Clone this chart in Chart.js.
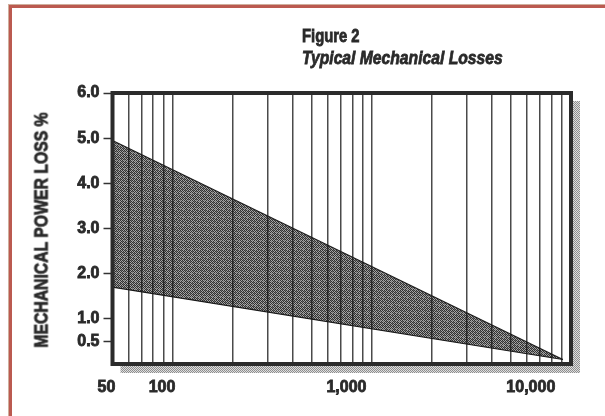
<!DOCTYPE html>
<html>
<head>
<meta charset="utf-8">
<script src="https://cdn.jsdelivr.net/npm/chart.js@4.4.1/dist/chart.umd.min.js"></script>
<style>
html,body{margin:0;padding:0;background:#fff;}
#wrap{position:relative;width:605px;height:416px;overflow:hidden;background:#fff;}
#frame{position:absolute;left:8px;top:4px;width:700px;height:500px;border-left:1px solid #cfae9c;border-top:1px solid #cfae9c;}
#frame2{position:absolute;left:9px;top:5px;width:700px;height:500px;border-left:3px solid #bb5a50;border-top:3px solid #bb5a50;}
canvas{position:absolute;left:0;top:0;}
.ttl{position:absolute;color:#2a2a2a;font-family:'Liberation Sans',Arial,sans-serif;font-weight:bold;white-space:nowrap;transform-origin:left top;-webkit-text-stroke:0.8px #2a2a2a;}
#t1{left:302px;top:27px;font-size:18.5px;line-height:18.5px;transform:scaleX(0.80);}
#t2{left:302px;top:48px;font-size:19px;line-height:19px;font-style:italic;transform:scaleX(0.825);}
#yt{left:41px;top:230px;font-size:19px;line-height:19px;transform-origin:50% 50%;transform:translate(-50%,-50%) rotate(-90deg) scaleX(0.83);}
</style>
</head>
<body>
<div id="wrap">
  <div id="frame"></div>
  <div id="frame2"></div>
  <canvas id="c" width="605" height="416"></canvas>
  <div class="ttl" id="t1">Figure 2</div>
  <div class="ttl" id="t2">Typical Mechanical Losses</div>
  <div class="ttl" id="yt"></div>
</div>
<script>
// ---- data ----
const speedRange = [50, 9100];          // x values of the band end points
const upperLoss = [4.95, 0.1];          // upper edge of the band (%)
const lowerLoss = [1.7, 0.1];           // lower edge of the band (%)
const yTickValues = [0.5, 1.0, 2.0, 3.0, 4.0, 5.0, 6.0];
const xGridValues = [60, 70, 80, 90, 100, 200, 300, 400, 500, 600, 700, 800, 900,
                     1000, 2000, 3000, 4000, 5000, 6000, 7000, 8000, 9000];
const xTickLabels = [50, 100, 1000, 10000];
const yAxisTitle = 'MECHANICAL POWER LOSS %';

document.getElementById('yt').textContent = yAxisTitle;

// ---- patterns ----
function makePattern(rows, colors) {
  const c = document.createElement('canvas');
  c.width = rows[0].length; c.height = rows.length;
  const g = c.getContext('2d');
  rows.forEach((row, y) => {
    for (let x = 0; x < row.length; x++) {
      g.fillStyle = colors[row[x]];
      g.fillRect(x, y, 1, 1);
    }
  });
  return g.createPattern(c, 'repeat');
}
const bandPattern = makePattern([
  'DLDLMLDL',
  'LDMDLDLM',
  'DLDLDMDL',
  'MDLDLDLD',
  'DLDMDLDL',
  'LDLDLDMD',
  'DMDLDLDL',
  'LDLDMDLD'
], {D: 'rgba(20,20,20,0.88)', M: 'rgba(20,20,20,0.62)', L: 'rgba(20,20,20,0.38)'});
const shadowPattern = makePattern(['AB', 'BA'], {A: '#8e8e8e', B: '#dedede'});

const framePlugin = {
  id: 'frame',
  beforeDraw(chart) {
    const {ctx, chartArea: a} = chart;
    ctx.save();
    ctx.fillStyle = shadowPattern;
    ctx.fillRect(a.left + 8, a.top + 8, a.right - a.left + 1, a.bottom - a.top + 1);
    ctx.fillStyle = '#ffffff';
    ctx.fillRect(a.left, a.top, a.right - a.left, a.bottom - a.top);
    ctx.restore();
  },
  afterDraw(chart) {
    const {ctx, chartArea: a} = chart;
    ctx.save();
    ctx.strokeStyle = '#2b2b2b';
    ctx.lineWidth = 4;
    ctx.strokeRect(a.left, a.top, a.right - a.left, a.bottom - a.top);
    ctx.restore();
  }
};

const tickFont = {family: "'Liberation Sans', Arial, sans-serif", size: 16, weight: 'bold'};

new Chart(document.getElementById('c'), {
  type: 'line',
  data: {
    datasets: [
      {
        label: 'upper',
        data: speedRange.map((x, i) => ({x: x, y: upperLoss[i]})),
        borderColor: '#1c1c1c',
        borderWidth: 1.2,
        backgroundColor: bandPattern,
        fill: '+1',
        pointRadius: 0,
        tension: 0,
        xAxisID: 'x', yAxisID: 'y'
      },
      {
        label: 'lower',
        data: speedRange.map((x, i) => ({x: x, y: lowerLoss[i]})),
        borderColor: '#1c1c1c',
        borderWidth: 1.2,
        fill: false,
        pointRadius: 0,
        tension: 0,
        xAxisID: 'x', yAxisID: 'y'
      }
    ]
  },
  options: {
    responsive: false,
    devicePixelRatio: 1,
    animation: false,
    layout: {padding: {top: 93, right: 34, left: 0, bottom: 0}},
    plugins: {legend: {display: false}, tooltip: {enabled: false}, title: {display: false}},
    scales: {
      x: {
        type: 'logarithmic',
        position: 'bottom',
        min: 50, max: 10000,
        afterBuildTicks: s => { s.ticks = xGridValues.map(v => ({value: v})); },
        afterFit: s => { s.height = 0; },
        ticks: {display: false},
        grid: {display: true, drawOnChartArea: true, drawTicks: false, color: '#4a4a4a', lineWidth: 1.5},
        border: {display: false}
      },
      xl: {
        type: 'logarithmic',
        position: 'bottom',
        min: 50, max: 15320,
        afterBuildTicks: s => { s.ticks = xTickLabels.map(v => ({value: v})); },
        afterFit: s => { s.height = 52; },
        ticks: {
          display: true,
          autoSkip: false,
          maxRotation: 0,
          padding: 14,
          labelOffset: -6,
          color: '#2a2a2a',
          textStrokeColor: '#2a2a2a',
          textStrokeWidth: 0.8,
          font: tickFont,
          callback: v => Number(v).toLocaleString('en-US')
        },
        grid: {display: false, drawTicks: false},
        border: {display: false}
      },
      y: {
        type: 'linear',
        min: 0, max: 6,
        afterBuildTicks: s => { s.ticks = yTickValues.map(v => ({value: v})); },
        afterFit: s => { s.width = 112.5; },
        ticks: {
          padding: 4,
          color: '#2a2a2a',
          textStrokeColor: '#2a2a2a',
          textStrokeWidth: 0.8,
          font: tickFont,
          callback: v => Number(v).toFixed(1)
        },
        grid: {drawOnChartArea: false, drawTicks: true, tickLength: 9, tickColor: '#333333', tickWidth: 1.5},
        border: {display: false},
        title: {display: false}
      }
    }
  },
  plugins: [framePlugin]
});
</script>
</body>
</html>
